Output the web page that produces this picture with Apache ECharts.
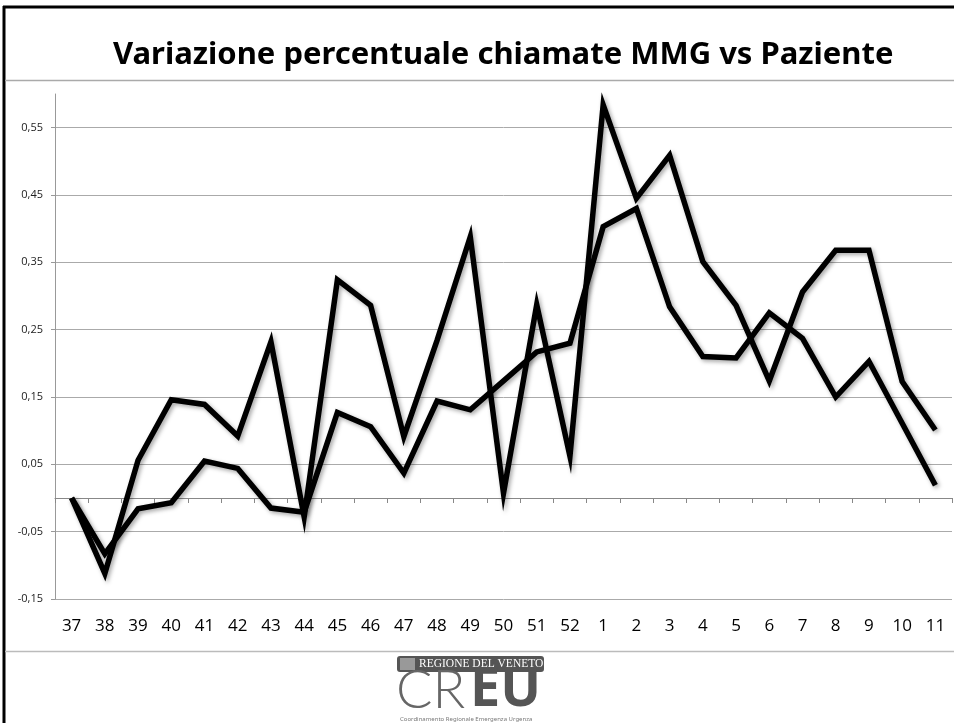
<!DOCTYPE html>
<html lang="it">
<head>
    <meta charset="UTF-8">
    <title>Variazione percentuale chiamate MMG vs Paziente</title>
    <script src="https://cdn.jsdelivr.net/npm/echarts@6.0.0/dist/echarts.min.js"></script>
    <style>
        html, body { margin: 0; padding: 0; background: #fff; }
        #main { width: 954px; height: 723px; }
    </style>
</head>
<body>
<div id="main"></div>
<script>
    // settimane (37-52 del primo anno, 1-11 del successivo)
    let weeks = ['37', '38', '39', '40', '41', '42', '43', '44', '45', '46', '47', '48', '49', '50', '51', '52',
        '1', '2', '3', '4', '5', '6', '7', '8', '9', '10', '11'];
    // variazione percentuale chiamate MMG
    let mmg = [0, -0.112, 0.056, 0.146, 0.139, 0.092, 0.232, -0.028, 0.324, 0.286, 0.091, 0.234, 0.388, 0.007,
        0.287, 0.062, 0.584, 0.445, 0.509, 0.351, 0.286, 0.174, 0.306, 0.368, 0.368, 0.173, 0.101];
    // variazione percentuale chiamate Paziente
    let paziente = [0, -0.083, -0.016, -0.007, 0.055, 0.044, -0.015, -0.021, 0.127, 0.106, 0.037, 0.144, 0.131,
        0.174, 0.217, 0.230, 0.403, 0.430, 0.284, 0.210, 0.208, 0.275, 0.237, 0.150, 0.203, 0.111, 0.019];
    // asse y
    let yMin = -0.15;
    let yMax = 0.6;
    let yStep = 0.1;

    let lineStyle = {
        color: '#000',
        width: 5.5,
        join: 'miter',
        cap: 'butt',
        shadowColor: 'rgba(0,0,0,0.35)',
        shadowBlur: 4,
        shadowOffsetX: 2,
        shadowOffsetY: 2
    };

    let mychart = echarts.init(document.getElementById('main'));
    let option = {
        backgroundColor: '#fff',
        animation: false,
        title: {
            text: 'Variazione percentuale chiamate MMG vs Paziente',
            left: 108,
            top: 35,
            textStyle: {
                fontFamily: 'Noto Sans',
                fontWeight: 'bold',
                fontSize: 31,
                color: '#000'
            }
        },
        grid: {
            left: 55,
            right: 2,
            top: 94,
            bottom: 124,
            containLabel: false,
            outerBoundsMode: 'none'
        },
        xAxis: [{
            type: 'category',
            data: weeks,
            position: 'bottom',
            axisLine: { onZero: true, lineStyle: { color: '#888', width: 1 } },
            axisTick: { show: true, length: 5, lineStyle: { color: '#888' } },
            axisLabel: { show: false },
            splitLine: { show: false }
        }, {
            type: 'category',
            data: weeks,
            position: 'bottom',
            axisLine: { show: false, onZero: false },
            axisTick: { show: false },
            axisLabel: {
                margin: 19,
                fontFamily: 'Open Sans',
                fontSize: 17,
                color: '#000'
            }
        }],
        yAxis: {
            type: 'value',
            min: yMin,
            max: yMax,
            interval: yStep,
            axisLine: { show: true, lineStyle: { color: '#999' } },
            axisTick: { show: true, length: 4, lineStyle: { color: '#999' } },
            axisLabel: {
                showMaxLabel: false,
                margin: 12,
                fontFamily: 'Open Sans',
                fontSize: 11,
                color: '#222',
                formatter: function (v) {
                    if (v > yMax - 0.01) return '';
                    return v.toFixed(2).replace('.', ',');
                }
            },
            splitLine: { show: true, showMaxLine: false, lineStyle: { color: '#aaa', width: 1 } }
        },
        series: [{
            name: 'MMG',
            type: 'line',
            data: mmg,
            symbol: 'none',
            lineStyle: lineStyle
        }, {
            name: 'Paziente',
            type: 'line',
            data: paziente,
            symbol: 'none',
            lineStyle: lineStyle
        }],
        graphic: [
            // cornice della slide
            { type: 'line', shape: { x1: 3, y1: 7, x2: 954, y2: 7 }, style: { stroke: '#000', lineWidth: 3 } },
            { type: 'line', shape: { x1: 4, y1: 6, x2: 4, y2: 723 }, style: { stroke: '#000', lineWidth: 3 } },
            { type: 'line', shape: { x1: 5, y1: 80.5, x2: 954, y2: 80.5 }, style: { stroke: '#aaa', lineWidth: 1.5 } },
            { type: 'line', shape: { x1: 5, y1: 651.5, x2: 954, y2: 651.5 }, style: { stroke: '#bbb', lineWidth: 1.5 } },
            // logo
            { type: 'rect', shape: { x: 397, y: 656, width: 147, height: 16, r: 3 }, style: { fill: '#555' } },
            { type: 'rect', shape: { x: 400, y: 658, width: 15, height: 12 }, style: { fill: '#999' } },
            {
                type: 'text', x: 419, y: 657.5,
                style: { text: 'REGIONE DEL VENETO', fill: '#fff', font: '11.5px "Liberation Serif"' }
            },
            {
                type: 'text', x: 396, y: 664,
                style: { text: 'CR', fill: '#666', font: '300 54px "Lato"' }
            },
            {
                type: 'text', x: 470, y: 664,
                style: { text: 'EU', fill: '#555', font: 'bold 54px "Noto Sans"' }
            },
            {
                type: 'text', x: 400, y: 716,
                style: { text: 'Coordinamento Regionale Emergenza Urgenza', fill: '#777', font: '6px "Noto Sans"' }
            }
        ]
    };
    mychart.setOption(option);
</script>
</body>
</html>
